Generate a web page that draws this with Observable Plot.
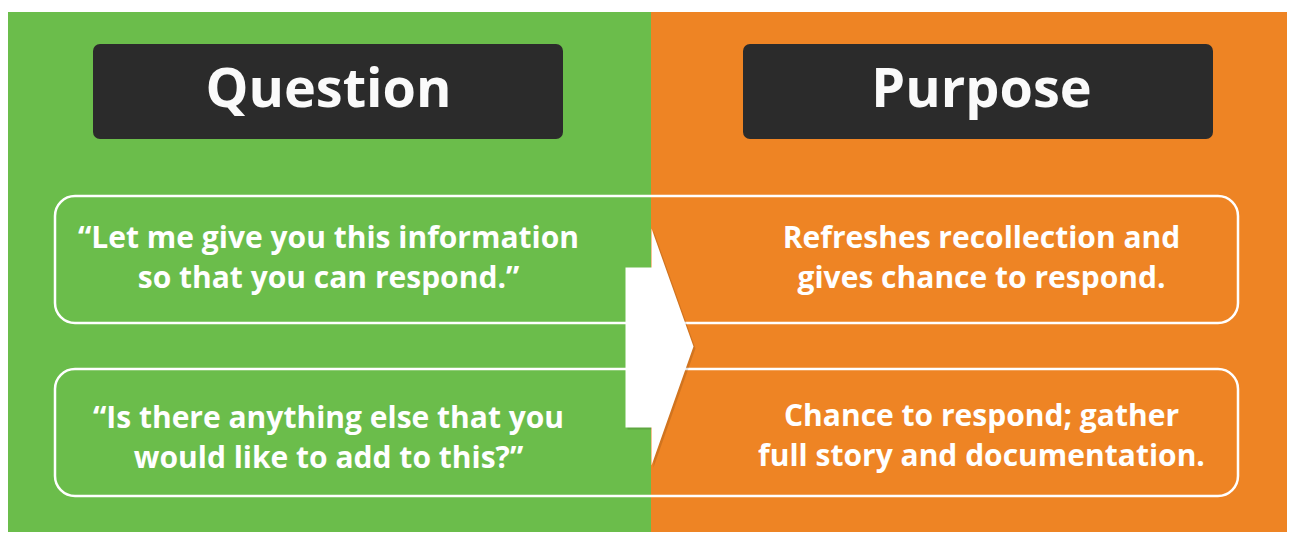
<!DOCTYPE html>
<html><head><meta charset="utf-8">
<script src="https://cdn.jsdelivr.net/npm/d3@7"></script>
<script src="https://cdn.jsdelivr.net/npm/@observablehq/plot@0.6"></script>
<style>html,body{margin:0;padding:0;background:#fff;overflow:hidden} svg{display:block}</style>
</head><body><div id="chart"></div>
<script>
// ---- content ----
const headers = ["Question", "Purpose"];
const questions = [
  "“Let me give you this information\nso that you can respond.”",
  "“Is there anything else that you\nwould like to add to this?”"
];
const purposes = [
  "Refreshes recollection and\ngives chance to respond.",
  "Chance to respond; gather\nfull story and documentation."
];
const panelColors = ["#6bbd4b", "#ee8424"];
const headerColor = "#2b2b2b";

// ---- layout ----
const W = 1296, H = 534;
const panels = [
  {x1: 8, x2: 651, y1: 12, y2: 532, fill: panelColors[0]},
  {x1: 651, x2: 1287, y1: 12, y2: 532, fill: panelColors[1]}
];
const headerBoxes = headers.map((h, i) => ({
  x1: i === 0 ? 93 : 743, x2: i === 0 ? 563 : 1213, y1: 44, y2: 139, label: h,
  cx: i === 0 ? 328 : 981
}));
const rowY = [[196, 323], [369, 496]];
const rows = rowY.map(([y1, y2]) => ({x1: 55, x2: 1238, y1, y2}));
const fs = 30, lineH = 41, hfs = 54;
// first-line baselines per row, left and right
const leftBase = [247, 427], rightBase = [247, 425];
const shift = 0.18 * lineH; // Plot "middle" anchor offset for two lines
const textItems = [];
questions.forEach((q, i) => textItems.push({x: 328, y: leftBase[i] + shift, text: q}));
purposes.forEach((p, i) => textItems.push({x: 981, y: rightBase[i] + shift, text: p}));
const arrow = [
  {x: 625, y: 267}, {x: 651, y: 267}, {x: 651, y: 228}, {x: 693, y: 346},
  {x: 651, y: 465}, {x: 651, y: 427}, {x: 625, y: 427}
];
const arrowShadow = arrow.map(d => ({x: d.x + 2, y: d.y + 2}));

const font = "'Open Sans', sans-serif";
const chart = Plot.plot({
  width: W, height: H,
  margin: 0,
  x: {domain: [0, W], range: [0, W], axis: null},
  y: {domain: [0, H], range: [0, H], axis: null},
  style: {background: "#fff", fontFamily: font},
  marks: [
    Plot.rect(panels, {x1: "x1", x2: "x2", y1: "y1", y2: "y2", fill: "fill"}),
    Plot.rect(headerBoxes, {x1: "x1", x2: "x2", y1: "y1", y2: "y2", fill: headerColor, rx: 7}),
    Plot.text(headerBoxes, {x: "cx", y: 106 - 0.32 * hfs, text: "label", fill: "#fafafa",
      fontSize: hfs, fontWeight: 700, fontFamily: font}),
    Plot.rect(rows, {x1: "x1", x2: "x2", y1: "y1", y2: "y2", fill: "none", stroke: "#fff", strokeWidth: 2.5, rx: 20}),
    Plot.line(arrowShadow, {x: "x", y: "y", curve: "linear-closed", fill: "rgba(0,0,0,0.12)", stroke: "none"}),
    Plot.line(arrow, {x: "x", y: "y", curve: "linear-closed", fill: "#fff", stroke: "none"}),
    Plot.text(textItems, {x: "x", y: "y", text: "text", fill: "#fff", fontSize: fs, fontWeight: 700,
      lineHeight: lineH / fs, fontFamily: font})
  ]
});
chart.setAttribute("fill", "none");
document.getElementById("chart").appendChild(chart);
</script>
</body></html>
